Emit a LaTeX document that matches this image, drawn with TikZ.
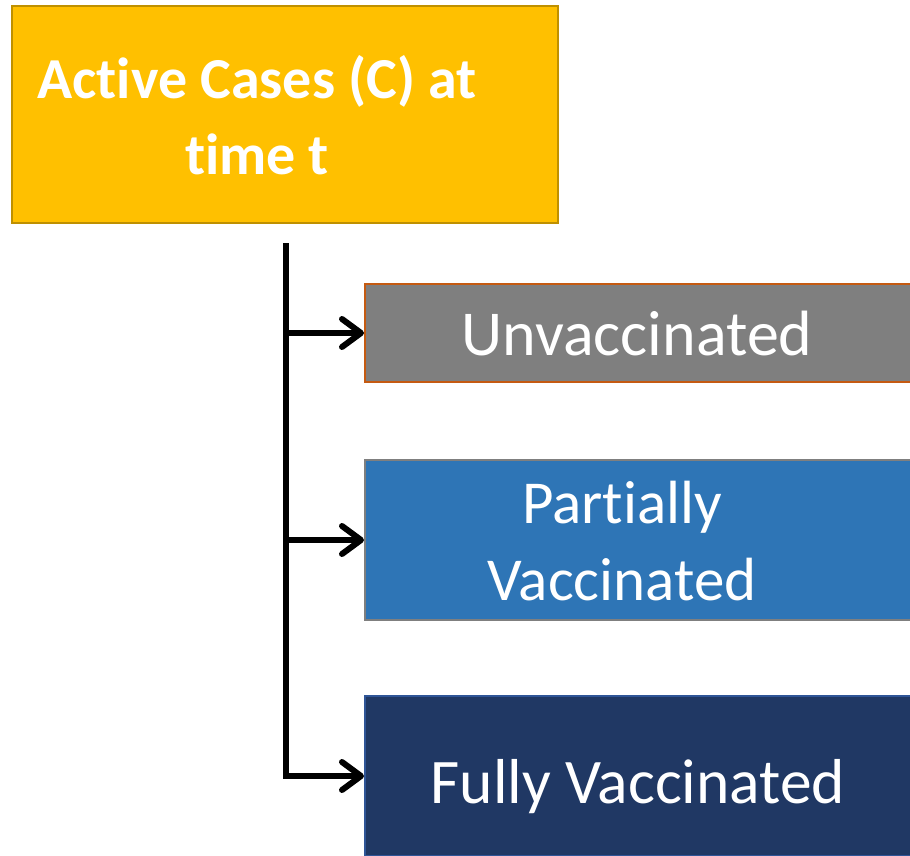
\documentclass[tikz,border=0pt]{standalone}
\usepackage{fontspec}
\setmainfont[Ligatures={NoCommon,NoContextual,NoRare}]{Carlito}
\usetikzlibrary{arrows.meta}

\definecolor{gold}{HTML}{FFC000}
\definecolor{golddark}{HTML}{BF9000}
\definecolor{greybox}{HTML}{7F7F7F}
\definecolor{rust}{HTML}{C55A11}
\definecolor{bluebox}{HTML}{2E75B6}
\definecolor{navybox}{HTML}{203864}
\definecolor{navyline}{HTML}{2F5597}

\begin{document}
\begin{tikzpicture}[x=1pt,y=-1pt,
    box/.style={draw,line width=2pt,inner sep=0pt,minimum width=546pt},
    boxtext/.style={text=white,align=center,inner sep=0pt,anchor=base},
    branch/.style={line width=6pt,-{Straight Barb[length=19pt,width=28pt,line width=6pt,line cap=round,line join=round]}}]
        \useasboundingbox (0,0) rectangle (910,856);
        % boxes
        \node[box,fill=gold,draw=golddark,minimum height=217pt] (active) at (285,114.5) {};
        \node[box,fill=greybox,draw=rust,minimum height=98pt] (unvac) at (638,333) {};
        \node[box,fill=bluebox,draw=greybox,minimum height=160pt] (partial) at (638,540) {};
        \node[box,fill=navybox,draw=navyline,minimum height=160pt] (full) at (638,776) {};
        % labels (anchor base = last line)
        \node[boxtext,font=\fontsize{58}{77}\selectfont\bfseries] at (257,175) {Active Cases (C) at\\time t};
        \node[boxtext,font=\fontsize{64}{77}\selectfont] at (637,355) {Unvaccinated};
        \node[boxtext,font=\fontsize{61}{77}\selectfont] at (622,600) {Partially\\Vaccinated};
        \node[boxtext,font=\fontsize{63.5}{77}\selectfont] at (638,803) {Fully Vaccinated};
        % connectors
        \coordinate (trunk) at (286,243);
        \draw[line width=6pt] (trunk) -- ([yshift=3pt]trunk |- full.west);
        \draw[branch] (trunk |- unvac.west) -- (unvac.west);
        \draw[branch] (trunk |- partial.west) -- (partial.west);
        \draw[branch] ([xshift=-3pt]trunk |- full.west) -- (full.west);
\end{tikzpicture}
\end{document}
